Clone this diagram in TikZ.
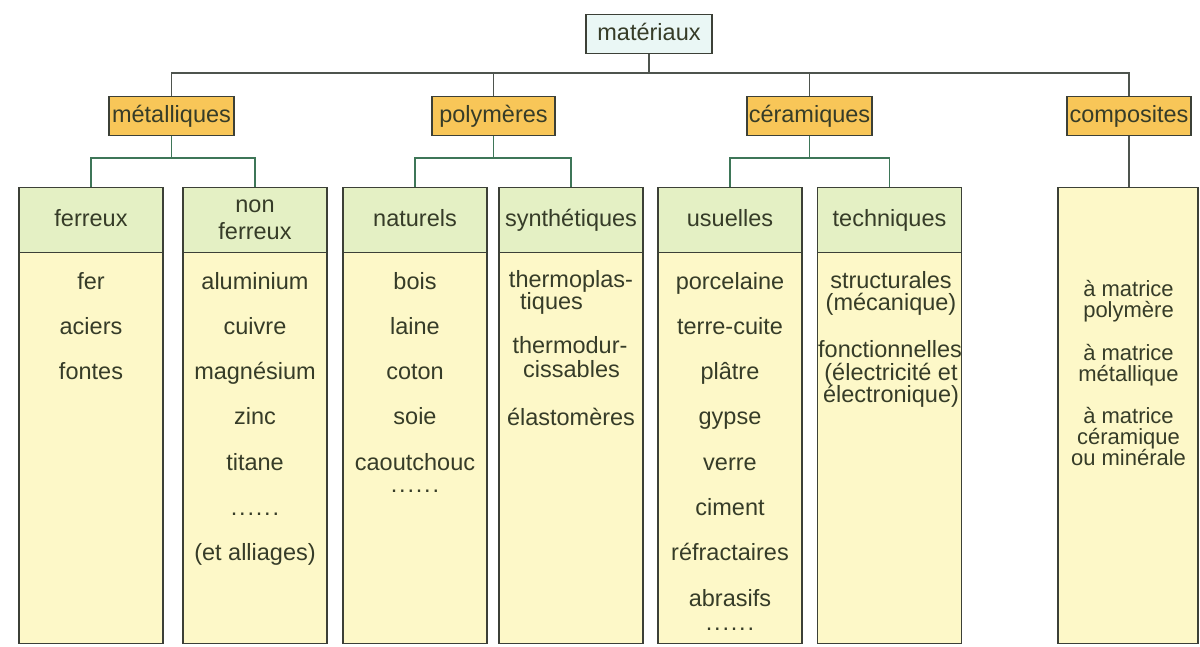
\documentclass[tikz,border=0pt]{standalone}
\usepackage{fontspec}
\setmainfont{Liberation Sans}
\definecolor{txtc}{RGB}{54,60,40}
\definecolor{linec}{RGB}{78,84,78}
\definecolor{subc}{RGB}{62,118,88}
\definecolor{orangef}{RGB}{248,198,88}
\definecolor{cyanf}{RGB}{234,247,245}
\definecolor{greenf}{RGB}{228,240,196}
\definecolor{yellowf}{RGB}{253,248,200}
\definecolor{borderc}{RGB}{60,64,55}
\newcommand\mydots{.\kern1.8pt.\kern1.8pt.\kern1.8pt.\kern1.8pt.\kern1.8pt.}
\begin{document}
\begin{tikzpicture}[x=1pt,y=-1pt,line join=miter,
  every node/.style={font=\fontsize{23.5}{26}\selectfont, text=txtc},
  bx/.style={draw=borderc, line width=1.4pt, inner sep=0pt, anchor=north},
  rootbox/.style={bx, fill=cyanf, minimum width=126pt, minimum height=39pt, text height=17pt, text depth=5pt},
  catbox/.style={bx, fill=orangef, minimum height=39pt, text height=17pt, text depth=5pt},
  hdrbox/.style={bx, fill=greenf, minimum width=144pt, minimum height=65pt},
  hdrone/.style={hdrbox, text height=17pt, text depth=5pt},
  hdrtwo/.style={hdrbox, align=center, font=\fontsize{23.5}{27}\selectfont},
  bodybox/.style={bx, fill=yellowf, minimum width=144pt, minimum height=391pt},
  txt/.style={inner sep=0pt, anchor=base},
  txtw/.style={inner sep=0pt, anchor=base west},
  ctxt/.style={txt, font=\fontsize{22}{24}\selectfont},
  conn/.style={draw=linec, line width=1.6pt},
  subconn/.style={draw=subc, line width=1.6pt}]
\useasboundingbox (0,0) rectangle (1200,646);
\fill[white] (0,0) rectangle (1200,646);

% root and categories
\node[rootbox] (mat) at (649,14) {matériaux};
\node[catbox, minimum width=125pt] (met) at (171.5,96) {métalliques};
\node[catbox, minimum width=123pt] (pol) at (493.5,96) {polymères};
\node[catbox, minimum width=125pt] (cer) at (809.5,96) {céramiques};
\node[catbox, minimum width=124pt] (comp) at (1129,96) {composites};

% columns
\node[bodybox] (ferb) at (91,252) {};
\node[hdrone] (fer) at (91,187) {ferreux};
\node[bodybox] (nferb) at (255,252) {};
\node[hdrtwo] (nfer) at (255,187) {non\\ferreux};
\node[bodybox] (natb) at (415,252) {};
\node[hdrone] (nat) at (415,187) {naturels};
\node[bodybox] (synb) at (571,252) {};
\node[hdrone] (syn) at (571,187) {synthétiques};
\node[bodybox] (usub) at (730,252) {};
\node[hdrone] (usu) at (730,187) {usuelles};
\node[bodybox] (tecb) at (889.5,252) {};
\node[hdrone] (tec) at (889.5,187) {techniques};
\node[bx, fill=yellowf, minimum width=140pt, minimum height=456pt] (compb) at (1128,187) {};

% column texts
\foreach \t [count=\i] in {fer,aciers,fontes}
  \node[txt] (fe\i) at (91,{289+45.3*(\i-1)}) {\t};
\foreach \t [count=\i] in {aluminium,cuivre,magnésium,zinc,titane,\mydots,(et alliages)}
  \node[txt] (nf\i) at (255,{289+45.3*(\i-1)}) {\t};
\foreach \t [count=\i] in {bois,laine,coton,soie,caoutchouc}
  \node[txt] (na\i) at (415,{289+45.3*(\i-1)}) {\t};
\node[txt] (na6) at (415,492) {\mydots};
\node[txt] (sy1) at (571,287) {thermoplas-};
\node[txtw] (sy2) at (520,309) {tiques};
\node[txt] (sy3) at (570,353) {thermodur-};
\node[txtw] (sy4) at (523,377) {cissables};
\node[txt] (sy5) at (571,425) {élastomères};
\foreach \t [count=\i] in {porcelaine,terre-cuite,plâtre,gypse,verre,ciment,réfractaires,abrasifs}
  \node[txt] (us\i) at (730,{289+45.3*(\i-1)}) {\t};
\node[txt] (us9) at (730,630) {\mydots};
\node[txt] (te1) at (891,288) {structurales};
\node[txt] (te2) at (891,310) {(mécanique)};
\node[txt] (te3) at (890,357) {fonctionnelles};
\node[txt] (te4) at (891,380) {(électricité et};
\node[txt] (te5) at (891,402) {électronique)};
\node[ctxt] (co1) at (1128.5,296) {à matrice};
\node[ctxt] (co2) at (1128.5,317) {polymère};
\node[ctxt] (co3) at (1128.5,360) {à matrice};
\node[ctxt] (co4) at (1128.5,381) {métallique};
\node[ctxt] (co5) at (1128.5,423) {à matrice};
\node[ctxt] (co6) at (1128.5,444) {céramique};
\node[ctxt] (co7) at (1128.5,465) {ou minérale};

% connectors
\coordinate (hbar) at (0,73);
\coordinate (sbar) at (0,158);
\draw[conn] (mat.south) -- (mat.south |- hbar);
\draw[conn] (met.north) -- (met.north |- hbar) -- (comp.north |- hbar) -- (comp.north);
\draw[conn] (pol.north) -- (pol.north |- hbar);
\draw[conn] (cer.north) -- (cer.north |- hbar);
\draw[conn] (comp.south) -- (comp.south |- compb.north);
\draw[subconn] (met.south) -- (met.south |- sbar);
\draw[subconn] (pol.south) -- (pol.south |- sbar);
\draw[subconn] (cer.south) -- (cer.south |- sbar);
\draw[subconn] (fer.north) -- (fer.north |- sbar) -- (nfer.north |- sbar) -- (nfer.north);
\draw[subconn] (nat.north) -- (nat.north |- sbar) -- (syn.north |- sbar) -- (syn.north);
\draw[subconn] (usu.north) -- (usu.north |- sbar) -- (tec.north |- sbar) -- (tec.north);
\end{tikzpicture}
\end{document}
